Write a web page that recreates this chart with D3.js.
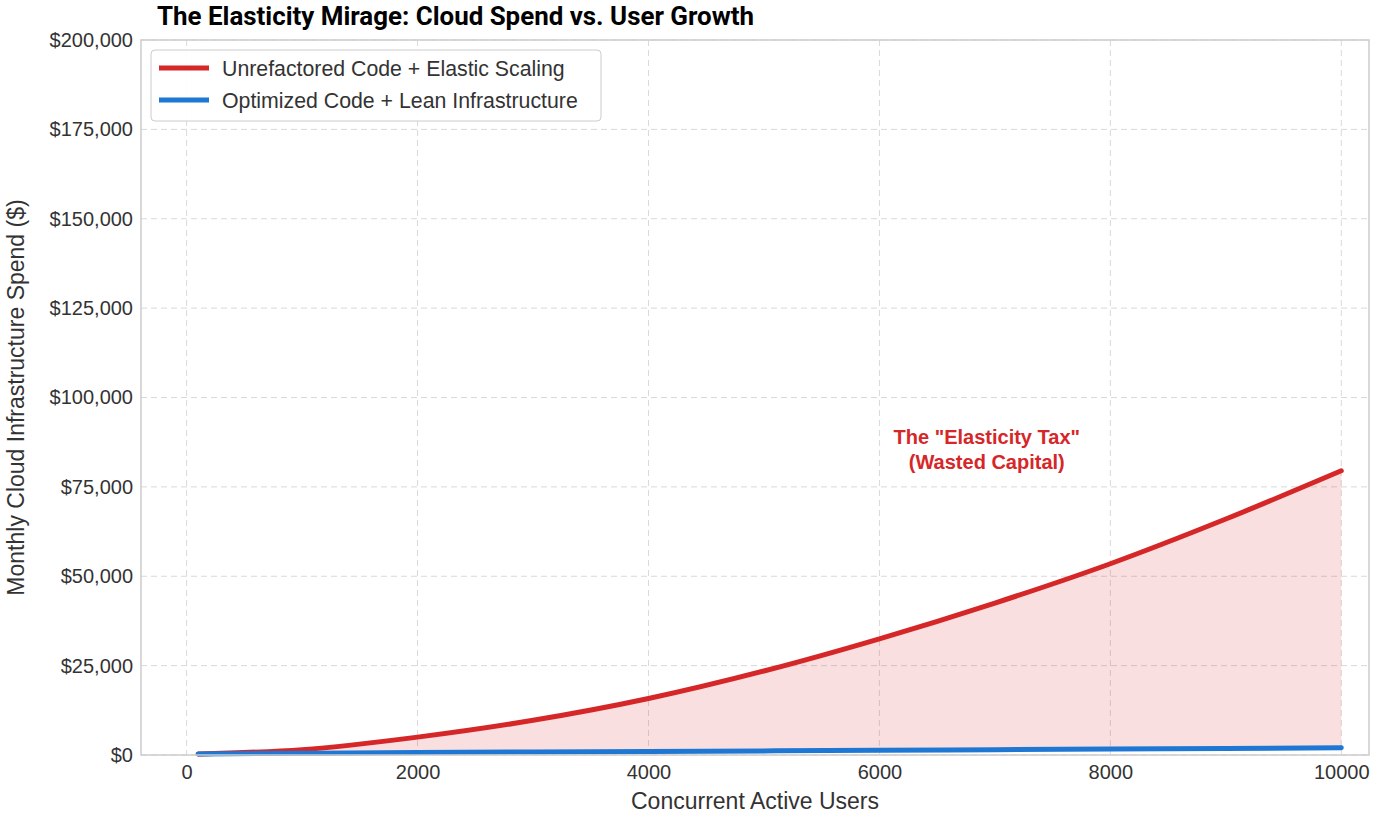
<!DOCTYPE html>
<html lang="en">
<head>
<meta charset="UTF-8">
<title>The Elasticity Mirage</title>
<script src="https://d3js.org/d3.v7.min.js"></script>
<style>
  body { margin: 0; background: #fff; }
  svg { font-family: "Liberation Sans", Arial, sans-serif; }
  .grid line { stroke: #d9d9d9; stroke-dasharray: 6,4; }
  .axis text { font-size: 20px; fill: #333; }
  .axis path, .axis line { stroke: none; }
</style>
</head>
<body>
<svg width="1400" height="813"></svg>
<script>
// values
const users = [100, 1000, 2000, 3000, 4000, 5000, 6000, 7000, 8000, 9000, 10000];
const unrefactored = [300, 1500, 5000, 9700, 15800, 23500, 32500, 42500, 53500, 66000, 79500];
const optimized = [300, 500, 700, 850, 1000, 1150, 1300, 1500, 1700, 1850, 2000];
const xTicks = [0, 2000, 4000, 6000, 8000, 10000];
const yTicks = [0, 25000, 50000, 75000, 100000, 125000, 150000, 175000, 200000];

const svg = d3.select("svg");
const m = {left: 141, right: 1369, top: 40, bottom: 755};
const x = d3.scaleLinear().domain([-395, 10240]).range([m.left, m.right]);
const y = d3.scaleLinear().domain([0, 200000]).range([m.bottom, m.top]);

// grid
const g = svg.append("g").attr("class", "grid");
g.selectAll(".vx").data(xTicks).join("line")
  .attr("x1", d => x(d)).attr("x2", d => x(d)).attr("y1", m.top).attr("y2", m.bottom);
g.selectAll(".hy").data(yTicks).join("line")
  .attr("y1", d => y(d)).attr("y2", d => y(d)).attr("x1", m.left).attr("x2", m.right);

const rows = users.map((u, i) => ({u, r: unrefactored[i], o: optimized[i]}));

// shaded gap
svg.append("path").datum(rows)
  .attr("fill", "#d62728").attr("fill-opacity", 0.15)
  .attr("d", d3.area().curve(d3.curveMonotoneX)
    .x(d => x(d.u)).y0(d => y(d.o)).y1(d => y(d.r)));

const line = key => d3.line().curve(d3.curveMonotoneX).x(d => x(d.u)).y(d => y(d[key]));
svg.append("path").datum(rows).attr("fill", "none").attr("stroke", "#d62728")
  .attr("stroke-width", 5).attr("stroke-linecap", "round").attr("d", line("r"));
svg.append("path").datum(rows).attr("fill", "none").attr("stroke", "#1f77d4")
  .attr("stroke-width", 5).attr("stroke-linecap", "round").attr("d", line("o"));

// frame
svg.append("rect").attr("x", m.left).attr("y", m.top)
  .attr("width", m.right - m.left).attr("height", m.bottom - m.top)
  .attr("fill", "none").attr("stroke", "#ccc").attr("stroke-width", 1.5);

// axes
svg.append("g").attr("class", "axis").attr("transform", `translate(0,${m.bottom})`)
  .call(d3.axisBottom(x).tickValues(xTicks).tickFormat(d3.format("d")).tickSize(0).tickPadding(10));
svg.append("g").attr("class", "axis").attr("transform", `translate(${m.left},0)`)
  .call(d3.axisLeft(y).tickValues(yTicks).tickFormat(d => "$" + d3.format(",")(d)).tickSize(0).tickPadding(8));

svg.append("text").attr("x", (m.left + m.right) / 2).attr("y", 809)
  .attr("text-anchor", "middle").attr("font-size", 23).attr("fill", "#333")
  .text("Concurrent Active Users");
svg.append("text").attr("transform", `translate(24,${(m.top + m.bottom) / 2}) rotate(-90)`)
  .attr("text-anchor", "middle").attr("font-size", 23).attr("fill", "#333")
  .text("Monthly Cloud Infrastructure Spend ($)");

svg.append("text").attr("x", 157).attr("y", 25)
  .attr("font-family", "Roboto, sans-serif").attr("font-weight", "bold")
  .attr("font-size", 25).attr("fill", "#000")
  .attr("textLength", 597).attr("lengthAdjust", "spacingAndGlyphs")
  .text("The Elasticity Mirage: Cloud Spend vs. User Growth");

// annotation
const ann = svg.append("text").attr("text-anchor", "middle").attr("font-size", 20)
  .attr("font-weight", "bold").attr("fill", "#d62728");
ann.append("tspan").attr("x", x(6930)).attr("y", 444).text('The "Elasticity Tax"');
ann.append("tspan").attr("x", x(6930)).attr("y", 469).text("(Wasted Capital)");

// legend
const lg = svg.append("g").attr("transform", "translate(151,50)");
lg.append("rect").attr("width", 450).attr("height", 71).attr("rx", 4)
  .attr("fill", "#fff").attr("fill-opacity", 0.9).attr("stroke", "#ccc");
[["Unrefactored Code + Elastic Scaling", "#d62728"], ["Optimized Code + Lean Infrastructure", "#1f77d4"]]
  .forEach(([t, c], i) => {
    lg.append("line").attr("x1", 8).attr("x2", 58).attr("y1", 18 + i * 32).attr("y2", 18 + i * 32)
      .attr("stroke", c).attr("stroke-width", 5);
    lg.append("text").attr("x", 71).attr("y", 26 + i * 32).attr("font-size", 21.3).attr("fill", "#333").text(t);
  });
</script>
</body>
</html>
